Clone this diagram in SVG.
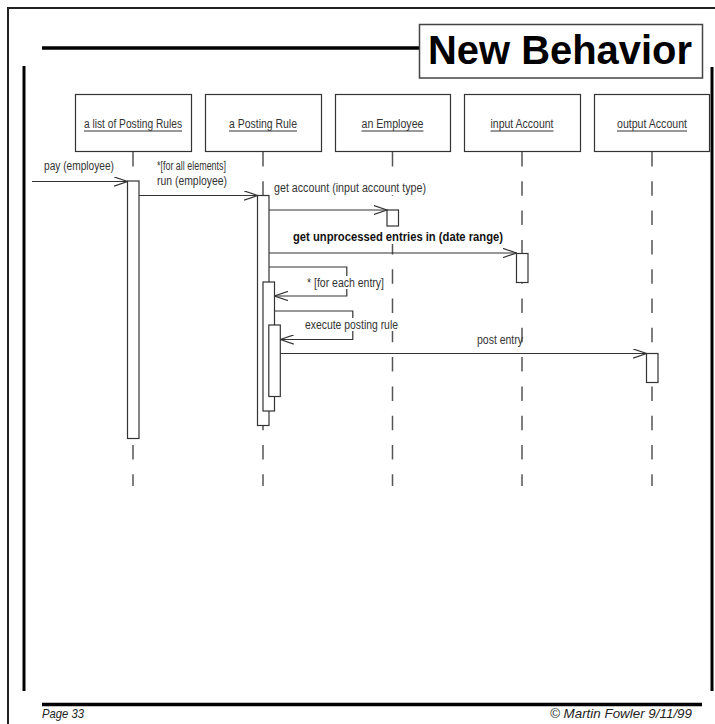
<svg xmlns="http://www.w3.org/2000/svg" width="715" height="724" viewBox="0 0 715 724">
  <style>
    .frame { fill: none; stroke: #222; stroke-width: 2; }
    .bar { stroke: #000; stroke-width: 3; }
    .obj { fill: #fff; stroke: #333; stroke-width: 1.2; }
    .lbl { font-family: "Liberation Sans", Arial, sans-serif; font-size: 12.5px; fill: #333; }
    .bold { font-weight: bold; fill: #111; }
    .life { stroke: #555; stroke-width: 1.5; stroke-dasharray: 14.5 14.8; }
    .act { fill: #fff; stroke: #333; stroke-width: 1.2; }
    .msg { fill: none; stroke: #333; stroke-width: 1.2; marker-end: url(#open); }
    .bg { fill: #fff; }
    .foot { font-family: "Liberation Sans", Arial, sans-serif; font-style: italic; font-size: 13px; fill: #222; }
  </style>
  <defs>
    <marker id="open" viewBox="0 0 14 10" refX="13.5" refY="5" markerWidth="14" markerHeight="10" markerUnits="userSpaceOnUse" orient="auto">
      <path d="M0,0.4 L13.5,5 L0,9.6" fill="none" stroke="#333" stroke-width="1.2"/>
    </marker>
  </defs>

  <rect width="715" height="724" fill="#fff"/>

  <!-- page frame and title band -->
  <g id="page">
    <path class="frame" d="M8,730 V8 H720"/>
    <line x1="42" y1="48" x2="419" y2="48" stroke="#000" stroke-width="3.5"/>
    <line class="bar" x1="24" y1="66" x2="24" y2="691"/>
    <line class="bar" x1="712" y1="67" x2="712" y2="691"/>
    <line x1="42" y1="704.5" x2="702" y2="704.5" stroke="#000" stroke-width="3.5"/>
  </g>

  <g id="title">
    <rect x="419.5" y="24.5" width="283" height="53.5" fill="#fff" stroke="#444" stroke-width="1.5"/>
    <text x="428" y="64" font-family="Liberation Sans, Arial, sans-serif" font-weight="bold" font-size="40" textLength="264" lengthAdjust="spacingAndGlyphs" fill="#000">New Behavior</text>
  </g>

  <!-- lifelines -->
  <g id="lifelines">
    <line class="life" x1="133" y1="152" x2="133" y2="486"/>
    <line class="life" x1="263" y1="152" x2="263" y2="486"/>
    <line class="life" x1="392.5" y1="152" x2="392.5" y2="486"/>
    <line class="life" x1="522" y1="152" x2="522" y2="486"/>
    <line class="life" x1="652" y1="152" x2="652" y2="486"/>
  </g>

  <!-- objects -->
  <g id="list-of-posting-rules">
    <rect class="obj" x="75.5" y="94.5" width="116" height="57"/>
    <text class="lbl" x="84" y="128" textLength="98" lengthAdjust="spacingAndGlyphs">a list of Posting Rules</text>
    <line x1="84" y1="131" x2="182" y2="131" stroke="#333" stroke-width="1"/>
  </g>
  <g id="posting-rule">
    <rect class="obj" x="205.5" y="94.5" width="116" height="57"/>
    <text class="lbl" x="229" y="128" textLength="68" lengthAdjust="spacingAndGlyphs">a Posting Rule</text>
    <line x1="229" y1="131" x2="297" y2="131" stroke="#333" stroke-width="1"/>
  </g>
  <g id="employee">
    <rect class="obj" x="335.5" y="94.5" width="115" height="57"/>
    <text class="lbl" x="361.5" y="128" textLength="62" lengthAdjust="spacingAndGlyphs">an Employee</text>
    <line x1="361.5" y1="131" x2="423.5" y2="131" stroke="#333" stroke-width="1"/>
  </g>
  <g id="input-account">
    <rect class="obj" x="464.5" y="94.5" width="116" height="57"/>
    <text class="lbl" x="490.5" y="128" textLength="63" lengthAdjust="spacingAndGlyphs">input Account</text>
    <line x1="490.5" y1="131" x2="553.5" y2="131" stroke="#333" stroke-width="1"/>
  </g>
  <g id="output-account">
    <rect class="obj" x="594.5" y="94.5" width="115" height="57"/>
    <text class="lbl" x="617" y="128" textLength="70" lengthAdjust="spacingAndGlyphs">output Account</text>
    <line x1="617" y1="131" x2="687" y2="131" stroke="#333" stroke-width="1"/>
  </g>

  <!-- activation bars -->
  <g id="activations">
    <rect class="act" x="127.5" y="181" width="11.5" height="257.5"/>
    <rect class="act" x="257.5" y="195.5" width="11.5" height="230"/>
    <rect class="act" x="263" y="282" width="11.5" height="129"/>
    <rect class="act" x="268.8" y="325" width="11.5" height="71.5"/>
    <rect class="act" x="387" y="210" width="11.5" height="16"/>
    <rect class="act" x="516.5" y="253.5" width="11.5" height="29"/>
    <rect class="act" x="646.5" y="353.5" width="11.5" height="29"/>
  </g>

  <!-- messages -->
  <g id="connectors">
    <line class="msg" x1="32" y1="181.5" x2="127.5" y2="181.5"/>
    <line class="msg" x1="139" y1="195.5" x2="257.5" y2="195.5"/>
    <line class="msg" x1="269" y1="210" x2="387" y2="210"/>
    <line class="msg" x1="269" y1="253" x2="516.5" y2="253"/>
    <polyline class="msg" points="269,267 346.8,267 346.8,296 274.5,296"/>
    <polyline class="msg" points="274.5,311 352.8,311 352.8,339.5 280.3,339.5"/>
    <line class="msg" x1="280.3" y1="353.5" x2="646.5" y2="353.5"/>
  </g>

  <!-- message labels -->
  <g id="labels">
    <text class="lbl" x="44" y="170" textLength="70" lengthAdjust="spacingAndGlyphs">pay (employee)</text>
    <text class="lbl" x="157" y="170" textLength="69" lengthAdjust="spacingAndGlyphs">*[for all elements]</text>
    <text class="lbl" x="157" y="185" textLength="70" lengthAdjust="spacingAndGlyphs">run (employee)</text>
    <rect class="bg" x="273" y="180" width="154" height="15"/>
    <text class="lbl" x="274" y="192" textLength="152" lengthAdjust="spacingAndGlyphs">get account (input account type)</text>
    <rect class="bg" x="292" y="230" width="212" height="14"/>
    <text class="lbl bold" x="293" y="241" textLength="210" lengthAdjust="spacingAndGlyphs">get unprocessed entries in (date range)</text>
    <rect class="bg" x="306" y="276" width="79" height="13"/>
    <text class="lbl" x="307" y="287" textLength="77" lengthAdjust="spacingAndGlyphs">* [for each entry]</text>
    <rect class="bg" x="304" y="318" width="95" height="13"/>
    <text class="lbl" x="305" y="329" textLength="93" lengthAdjust="spacingAndGlyphs">execute posting rule</text>
    <text class="lbl" x="477" y="344" textLength="46" lengthAdjust="spacingAndGlyphs">post entry</text>
  </g>

  <g id="footer">
    <text class="foot" x="42" y="718" textLength="42" lengthAdjust="spacingAndGlyphs">Page 33</text>
    <text class="foot" x="692" y="718" text-anchor="end" textLength="142" lengthAdjust="spacingAndGlyphs">© Martin Fowler  9/11/99</text>
  </g>
</svg>
